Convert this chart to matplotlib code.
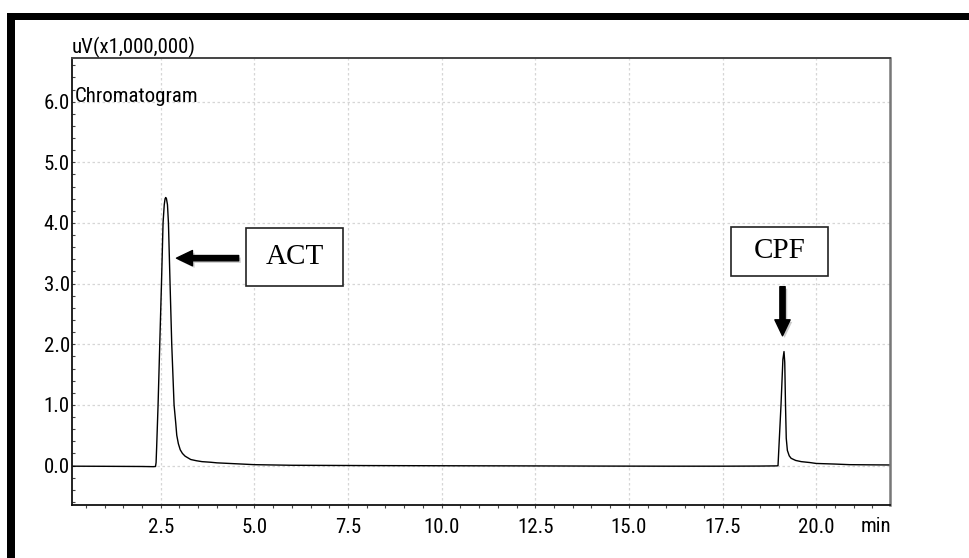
import matplotlib
matplotlib.use("Agg")
import matplotlib.pyplot as plt
from matplotlib.patches import Rectangle
from matplotlib.ticker import MultipleLocator, FormatStrFormatter
import matplotlib.patheffects as pe
from matplotlib import font_manager

available = {f.name for f in font_manager.fontManager.ttflist}
sans_choices = [f for f in ['Liberation Sans Narrow', 'Roboto Condensed', 'DejaVu Sans Condensed',
                            'Liberation Sans'] if f in available] + ['DejaVu Sans']
plt.rcParams['font.family'] = sans_choices

# Chromatogram trace (time in min, signal in uV x 1,000,000)
time_min = [0.13, 1.0, 2.0, 2.30, 2.36, 2.375, 2.39, 2.428, 2.473, 2.519, 2.561, 2.593,
            2.615, 2.633, 2.652, 2.679, 2.705, 2.748, 2.793, 2.855, 2.90, 2.927, 2.97,
            3.02, 3.079, 3.15, 3.30, 3.45, 3.60, 3.83, 4.0, 4.5, 5.0, 6.0, 8.0, 10.0,
            12.0, 14.0, 16.0, 17.5, 18.5, 18.95, 18.98, 19.0, 19.06, 19.11, 19.14,
            19.16, 19.18, 19.20, 19.23, 19.28, 19.33, 19.45, 19.6, 19.83, 20.0, 20.5,
            20.89, 21.5, 21.97]
signal = [-0.01, -0.012, -0.015, -0.018, -0.015, 0.05, 0.30, 1.0, 2.0, 3.0, 4.0, 4.30,
          4.40, 4.42, 4.40, 4.30, 4.0, 3.0, 2.0, 1.0, 0.70, 0.50, 0.36,
          0.26, 0.20, 0.155, 0.10, 0.08, 0.065, 0.055, 0.045, 0.03, 0.015, 0.005, 0.0, -0.003,
          -0.005, -0.008, -0.01, -0.01, -0.008, -0.005, 0.0, 0.25, 1.0, 1.75, 1.88,
          1.70, 1.0, 0.45, 0.25, 0.16, 0.12, 0.085, 0.065, 0.05, 0.035, 0.025,
          0.015, 0.012, 0.01]

x_major = [2.5, 5.0, 7.5, 10.0, 12.5, 15.0, 17.5, 20.0]
y_major = [0.0, 1.0, 2.0, 3.0, 4.0, 5.0, 6.0]

peak_labels = ["ACT", "CPF"]

W, H = 969, 558
fig = plt.figure(figsize=(W / 100, H / 100), dpi=100)
ax = fig.add_axes([72 / W, 1 - 505 / H, (890 - 72) / W, (505 - 58) / H])

ax.plot(time_min, signal, color='black', lw=1.0)

ax.set_xlim(0.13, 21.97)
ax.set_ylim(-0.65, 6.72)

ax.set_xticks(x_major)
ax.set_yticks(y_major)
ax.xaxis.set_major_formatter(FormatStrFormatter('%.1f'))
ax.yaxis.set_major_formatter(FormatStrFormatter('%.1f'))
ax.xaxis.set_minor_locator(MultipleLocator(0.5))
ax.yaxis.set_minor_locator(MultipleLocator(0.2))

ax.tick_params(axis='x', which='both', direction='out', length=2.5, width=0.8,
               color='#444444', labelsize=15, pad=7)
ax.tick_params(axis='y', which='both', direction='in', length=2, width=0.8,
               color='#444444', labelsize=15, pad=1.5)

ax.grid(True, which='major', color='#d6d6d6', lw=0.9, ls=(0, (2, 2)))
ax.set_axisbelow(True)

for s in ['left', 'bottom']:
    ax.spines[s].set_color('#111111')
    ax.spines[s].set_linewidth(1.3)
ax.spines['top'].set_color('#444444')
ax.spines['top'].set_linewidth(1.4)
ax.spines['right'].set_color('#777777')
ax.spines['right'].set_linewidth(1.8)

ax.text(0.0, 1.0, "uV(x1,000,000)", transform=ax.transAxes, ha='left', va='bottom',
        fontsize=15)
ax.text(0.003, 6.0, "Chromatogram", transform=ax.get_yaxis_transform(), ha='left',
        va='baseline', fontsize=15)
ax.annotate("min", xy=(1.0, 0.0), xycoords='axes fraction', xytext=(1, -8.5),
            textcoords='offset points', ha='right', va='top', fontsize=15)

# Peak annotations
arrow_style = 'simple,head_length=1.15,head_width=1.1,tail_width=0.38'
shadow = [pe.SimplePatchShadow(offset=(1.5, -1.5), shadow_rgbFace='#999999', alpha=0.5),
          pe.Normal()]
a1 = ax.annotate('', xy=(2.92, 3.42), xytext=(4.58, 3.42),
                 arrowprops=dict(arrowstyle=arrow_style, fc='black', ec='black',
                                 mutation_scale=10, shrinkA=0, shrinkB=0))
a1.arrow_patch.set_path_effects(shadow)
a2 = ax.annotate('', xy=(19.1, 2.14), xytext=(19.1, 2.95),
                 arrowprops=dict(arrowstyle=arrow_style, fc='black', ec='black',
                                 mutation_scale=10, shrinkA=0, shrinkB=0))
a2.arrow_patch.set_path_effects(shadow)

# Label boxes (figure pixel positions)
for label, (x0, y0, x1, y1) in zip(peak_labels, [(246, 228, 343, 286), (731, 227, 828, 276)]):
    fig.patches.append(Rectangle((x0 / W, 1 - y1 / H), (x1 - x0) / W, (y1 - y0) / H,
                                 transform=fig.transFigure, fc='white', ec='#222222',
                                 lw=1.2, zorder=5))
    fig.text((x0 + x1) / 2 / W, 1 - (y0 + y1) / 2 / H, label, ha='center', va='center',
             family=['Liberation Serif', 'DejaVu Serif'], fontsize=21, zorder=6)

# Thick black frame (top and left)
fig.patches.append(Rectangle((7 / W, 1 - 20 / H), (W - 7) / W, 7 / H,
                             transform=fig.transFigure, fc='black', ec='none', zorder=10))
fig.patches.append(Rectangle((7 / W, 0), 8 / W, 1 - 13 / H,
                             transform=fig.transFigure, fc='black', ec='none', zorder=10))

fig.savefig("out.png", dpi=100)
